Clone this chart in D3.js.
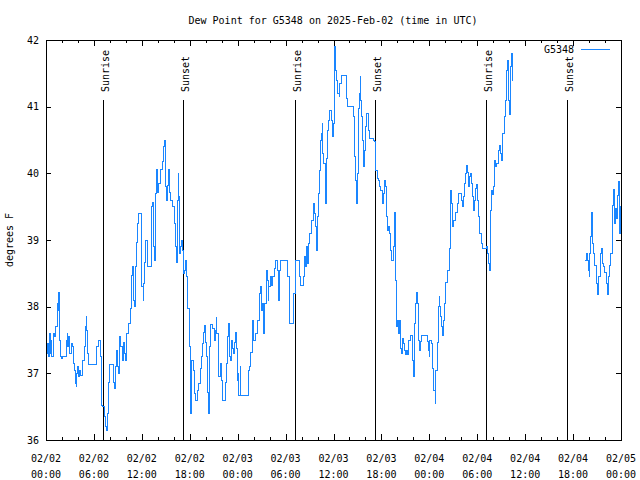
<!DOCTYPE html>
<html><head><meta charset="utf-8">
<script src="https://cdn.jsdelivr.net/npm/d3@7"></script>
<style>
body{margin:0;background:#fff}
svg text{font-family:"DejaVu Sans Mono",monospace;font-size:10px;fill:#000}
</style>
</head><body><svg id="c" width="640" height="480"></svg>
<script>
const chartTitle = "Dew Point for G5348 on 2025-Feb-02 (time in UTC)";
const yLabel = "degrees F";
const seriesName = "G5348";
const startUTC = Date.UTC(2025, 1, 2, 0, 0);
const spanHours = 72;
const xTickHours = [0, 6, 12, 18, 24, 30, 36, 42, 48, 54, 60, 66, 72];
const xMinorHours = [2, 4, 8, 10, 14, 16, 20, 22, 26, 28, 32, 34, 38, 40, 44, 46, 50, 52, 56, 58, 62, 64, 68, 70];
const yTicks = [36, 37, 38, 39, 40, 41, 42];
const sunHours = [7.13, 17.18, 31.12, 41.2, 55.1, 65.22];
const sunLabels = ["Sunrise", "Sunset", "Sunrise", "Sunset", "Sunrise", "Sunset"];
// [hours since 2025-02-02 00:00 UTC, dew point °F]; null = no data
const dewSeries = [
[0.05,37.3],[0.2,37.45],[0.3,37.25],[0.42,37.6],[0.55,37.3],[0.63,37.5],[0.75,37.25],[0.92,37.6],[1.1,37.55],[1.25,37.7],[1.4,38.05],[1.5,37.95],[1.59,38.22],[1.67,37.9],[1.72,37.5],[1.8,37.25],[2.0,37.22],[2.09,37.25],[2.59,37.5],[2.7,37.6],[2.75,37.4],[2.84,37.55],[3.0,37.3],[3.2,37.45],[3.34,37.4],[3.5,37.15],[3.6,37.05],[3.67,36.85],[3.8,36.8],[3.84,37.0],[3.96,37.1],[4.1,36.95],[4.17,37.05],[4.34,36.97],[4.51,37.2],[4.8,37.4],[4.92,37.7],[5.01,37.85],[5.09,37.65],[5.22,37.3],[5.34,37.13],[6.34,37.4],[6.59,37.5],[6.8,37.25],[6.93,36.78],[7.01,36.52],[7.1,36.5],[7.3,36.35],[7.43,36.2],[7.55,36.15],[7.68,36.4],[7.8,36.87],[7.93,37.13],[8.43,36.87],[8.56,36.77],[8.68,37.1],[8.85,37.35],[8.97,37.1],[9.05,37.0],[9.18,37.55],[9.39,37.4],[9.52,37.2],[9.68,37.47],[9.85,37.3],[9.93,37.2],[10.1,37.6],[10.35,37.75],[10.6,37.97],[10.73,38.47],[10.85,38.6],[10.98,38.1],[11.1,38.0],[11.19,38.6],[11.31,38.97],[11.44,39.25],[11.56,39.4],[11.94,38.8],
[12.02,38.3],[12.15,38.1],[12.23,38.35],[12.35,38.67],[12.44,39.0],[12.65,38.95],[12.77,38.6],[13.19,39.5],[13.36,39.57],[13.48,38.9],[13.61,38.7],[13.69,39.7],[13.86,40.06],[13.98,39.72],[14.11,39.85],[14.32,40.06],[14.61,40.18],[14.73,40.4],[14.82,40.5],[14.94,39.8],[15.07,39.6],[15.19,39.82],[15.36,40.06],[15.44,39.72],[15.61,39.6],[15.86,39.5],[16.07,39.25],[16.19,38.9],[16.32,38.66],[16.44,39.6],[16.53,40.0],[16.61,39.66],[16.74,38.8],[16.86,38.9],[16.99,39.0],[17.11,38.85],[17.24,38.5],[17.36,38.55],[17.53,38.7],[17.65,38.45],[17.78,37.97],[17.95,37.4],[18.07,36.4],[18.16,36.7],[18.28,37.2],[18.41,37.05],[18.57,36.7],[18.78,36.6],[18.95,36.75],[19.12,36.85],[19.32,37.07],[19.45,37.25],[19.57,37.45],[19.7,37.62],[19.87,37.72],[19.95,37.47],[20.07,37.25],[20.2,36.95],[20.28,36.72],[20.37,36.4],[20.45,37.4],[20.58,37.74],[20.91,37.67],[21.04,37.5],[21.2,37.65],[21.29,37.84],[21.41,37.6],[21.54,37.1],[21.66,36.95],[21.79,37.15],[21.95,36.9],[22.04,36.6],[22.45,36.87],[22.58,37.15],[22.75,37.55],[22.87,37.75],[23.0,37.25],[23.16,37.2],[23.29,37.5],[23.41,37.37],[23.54,37.3],[23.66,37.47],[23.79,37.62],[23.91,37.37],[23.99,36.9],
[24.04,37.0],[24.1,36.67],[24.3,37.1],[24.4,36.67],[25.35,37.05],[25.5,37.1],[25.66,37.32],[25.85,37.8],[26.0,37.5],[26.21,37.6],[26.46,37.8],[26.71,38.05],[26.79,38.2],[26.88,38.3],[26.96,37.95],[27.09,38.05],[27.21,37.6],[27.38,38.05],[27.55,38.4],[27.63,38.55],[27.71,38.4],[27.8,38.1],[27.92,38.3],[28.05,38.45],[28.21,38.32],[28.38,38.45],[28.55,38.57],[28.71,38.7],[29.05,38.55],[29.13,38.1],[29.26,38.55],[29.38,38.7],[30.3,38.45],[30.43,37.75],[31.05,38.2],[31.22,38.7],[31.76,38.45],[31.89,38.32],[32.26,38.45],[32.39,38.75],[32.51,38.6],[32.64,38.9],[32.72,38.65],[32.89,38.95],[32.97,39.1],[33.3,39.3],[33.47,39.55],[33.56,39.4],[33.72,39.2],[33.81,39.05],[33.89,38.85],[33.97,39.35],[34.1,39.7],[34.22,40.05],[34.35,40.5],[34.47,40.6],[34.56,40.75],[34.64,40.3],[34.81,40.15],[34.98,39.55],[35.1,40.22],[35.23,40.65],[35.35,40.8],[35.48,40.95],[35.81,40.8],[35.93,40.55],[36.06,40.75],
[36.08,41.6],[36.12,41.9],[36.2,41.55],[36.39,41.4],[36.56,41.2],[36.69,41.15],[36.81,41.35],[36.98,41.47],[37.65,41.12],[37.73,41.0],[38.56,40.85],[38.69,40.25],[38.81,39.9],[38.9,39.55],[38.98,40.0],[39.11,40.97],[39.23,41.2],[39.32,41.45],[39.4,41.1],[39.52,40.85],[39.65,40.5],[39.73,40.1],[39.82,40.35],[39.98,40.7],[40.15,40.9],[40.32,40.65],[40.48,40.52],[40.98,40.5],[41.11,40.48],[41.24,40.3],[41.32,40.05],[41.49,39.92],[41.65,39.9],[41.78,39.8],[41.94,39.75],[42.11,39.55],[42.24,39.7],[42.36,39.9],[42.49,39.8],[42.61,39.35],[42.74,39.15],[42.86,39.2],[42.99,39.1],[43.16,38.85],[43.28,38.7],[43.57,38.9],[43.7,39.42],[43.78,38.4],[43.91,37.7],[44.03,37.8],[44.16,37.6],[44.28,37.8],[44.41,37.38],[44.53,37.3],[44.66,37.52],[44.78,37.45],[44.91,37.35],[45.03,37.28],[45.16,37.35],[45.28,37.28],[45.41,37.5],[45.58,37.57],[45.87,37.2],[45.99,36.95],[46.08,37.35],[46.2,37.75],[46.33,38.05],[46.41,38.22],[46.49,38.05],[46.62,37.5],[46.74,37.35],[46.87,37.48],[46.99,37.57],[47.79,37.48],[47.91,37.35],[48.04,37.25],
[48.08,37.5],[48.29,37.45],[48.41,37.08],[48.58,36.75],[48.71,36.55],[48.83,37.05],[49.0,37.47],[49.12,38.0],[49.25,38.15],[49.33,38.0],[49.46,37.85],[49.58,37.7],[49.71,37.57],[49.83,37.8],[49.96,38.05],[50.08,38.37],[50.25,38.55],[50.5,38.87],[50.63,39.45],[50.71,39.75],[50.83,39.55],[50.96,39.2],[51.08,39.3],[51.25,39.41],[51.54,39.55],[51.71,39.7],[52.0,39.6],[52.13,39.5],[52.3,39.65],[52.42,39.85],[52.55,40.0],[52.67,40.12],[52.8,40.02],[52.92,39.8],[53.05,39.95],[53.17,40.0],[53.3,39.85],[53.42,39.65],[53.55,39.45],[53.67,39.6],[53.8,39.78],[53.92,39.83],[54.05,39.6],[54.21,39.35],[54.34,39.1],[54.51,38.95],[54.67,38.87],[55.17,38.9],[55.3,38.8],[55.43,38.65],[55.51,38.55],[55.63,38.92],[55.72,39.45],[55.84,39.75],[55.97,39.68],[56.09,39.8],[56.22,40.2],[56.34,40.1],[56.47,40.15],[56.64,40.35],[56.76,40.42],[56.89,40.3],[57.01,40.2],[57.14,40.35],[57.22,40.6],[57.35,40.85],[57.51,41.1],[57.64,41.55],[57.76,41.7],[57.89,41.5],[57.97,41.1],[58.06,40.88],[58.14,41.25],[58.22,41.6],[58.31,41.8],[58.39,41.4],[58.47,41.57],
[62.0,null],
[67.5,38.7],[67.62,38.75],[67.71,38.8],[67.79,38.7],[67.92,38.55],[68.0,38.45],[68.08,38.8],[68.21,39.05],[68.29,39.42],[68.37,39.25],[68.46,38.95],[68.54,38.8],[68.67,38.62],[68.92,38.35],[69.04,38.18],[69.17,38.45],[69.42,38.8],[69.54,38.87],[69.63,38.65],[69.75,38.6],[69.88,38.52],[70.17,38.35],[70.29,38.18],[70.38,38.45],[70.5,38.62],[70.63,38.8],[70.88,39.05],[70.96,39.52],[71.05,39.76],[71.13,39.58],[71.21,39.25],[71.34,39.48],[71.46,39.32],[71.59,39.67],[71.67,39.88],[71.76,39.3],[71.84,39.1],[71.92,39.5],[72.0,39.42]
];

const H = 3600 * 1000;
const toDate = h => new Date(startUTC + h * H);
const L = 46, R = 621, T = 40, B = 440;
const svg = d3.select("#c");

const x = d3.scaleUtc().domain([toDate(0), toDate(spanHours)]).range([L, R]);
const y = d3.scaleLinear().domain([36, 42]).range([B, T]);

// axes (ticks inward)
function styleAxis(g) { g.select(".domain").remove(); g.selectAll("line").attr("stroke", "#000").attr("shape-rendering", "crispEdges"); }
svg.append("g").attr("transform", `translate(0,${B})`)
  .call(d3.axisBottom(x).tickValues(xTickHours.map(toDate)).tickSize(-6).tickFormat("")).call(styleAxis);
svg.append("g").attr("transform", `translate(0,${B})`)
  .call(d3.axisBottom(x).tickValues(xMinorHours.map(toDate)).tickSize(-3).tickFormat("")).call(styleAxis);
svg.append("g").attr("transform", `translate(0,${T})`)
  .call(d3.axisTop(x).tickValues(xTickHours.map(toDate)).tickSize(-6).tickFormat("")).call(styleAxis);
svg.append("g").attr("transform", `translate(0,${T})`)
  .call(d3.axisTop(x).tickValues(xMinorHours.map(toDate)).tickSize(-3).tickFormat("")).call(styleAxis);
svg.append("g").attr("transform", `translate(${L},0)`)
  .call(d3.axisLeft(y).tickValues(yTicks).tickSize(-5).tickPadding(7).tickFormat(d3.format("d"))).call(styleAxis);
svg.append("g").attr("transform", `translate(${R},0)`)
  .call(d3.axisRight(y).tickValues(yTicks).tickSize(-5).tickFormat("")).call(styleAxis);

// x tick labels (two lines)
const fmtD = d3.utcFormat("%m/%d"), fmtT = d3.utcFormat("%H:%M");
const xl = svg.append("g").selectAll("text").data(xTickHours.map(toDate)).join("text")
  .attr("text-anchor", "middle");
xl.append("tspan").attr("x", d => x(d)).attr("y", B + 22).text(fmtD);
xl.append("tspan").attr("x", d => x(d)).attr("y", B + 38).text(fmtT);

// sunrise / sunset
const sg = svg.append("g");
sunHours.forEach((h, i) => {
  const xp = Math.round(x(toDate(h))) + 0.5;
  sg.append("line").attr("x1", xp).attr("x2", xp).attr("y1", B).attr("y2", T + 60)
    .attr("stroke", "#000").attr("stroke-width", 1);
  sg.append("text").attr("transform", `translate(${xp + 5},${T + 52}) rotate(-90)`)
    .attr("text-anchor", "start").text(sunLabels[i]);
});

// data line
const line = d3.line()
  .defined(d => d[1] != null)
  .x(d => x(toDate(d[0])))
  .y(d => y(d[1]))
  .curve(d3.curveStepAfter);
svg.append("path").datum(dewSeries).attr("d", line)
  .attr("fill", "none").attr("stroke", "#1a86ff").attr("stroke-width", 1)
  .attr("shape-rendering", "crispEdges");

// frame
svg.append("rect").attr("x", L + 0.5).attr("y", T + 0.5).attr("width", R - L).attr("height", B - T)
  .attr("fill", "none").attr("stroke", "#000");

// legend
svg.append("text").attr("x", 574).attr("y", 53).attr("text-anchor", "end").text(seriesName);
svg.append("line").attr("x1", 581).attr("x2", 610).attr("y1", 49.5).attr("y2", 49.5)
  .attr("stroke", "#1a86ff").attr("stroke-width", 1);

// title and y label
svg.append("text").attr("x", 333).attr("y", 24).attr("text-anchor", "middle").text(chartTitle);
svg.append("text").attr("transform", `translate(13,240) rotate(-90)`).attr("text-anchor", "middle").text(yLabel);
</script>
</body></html>
